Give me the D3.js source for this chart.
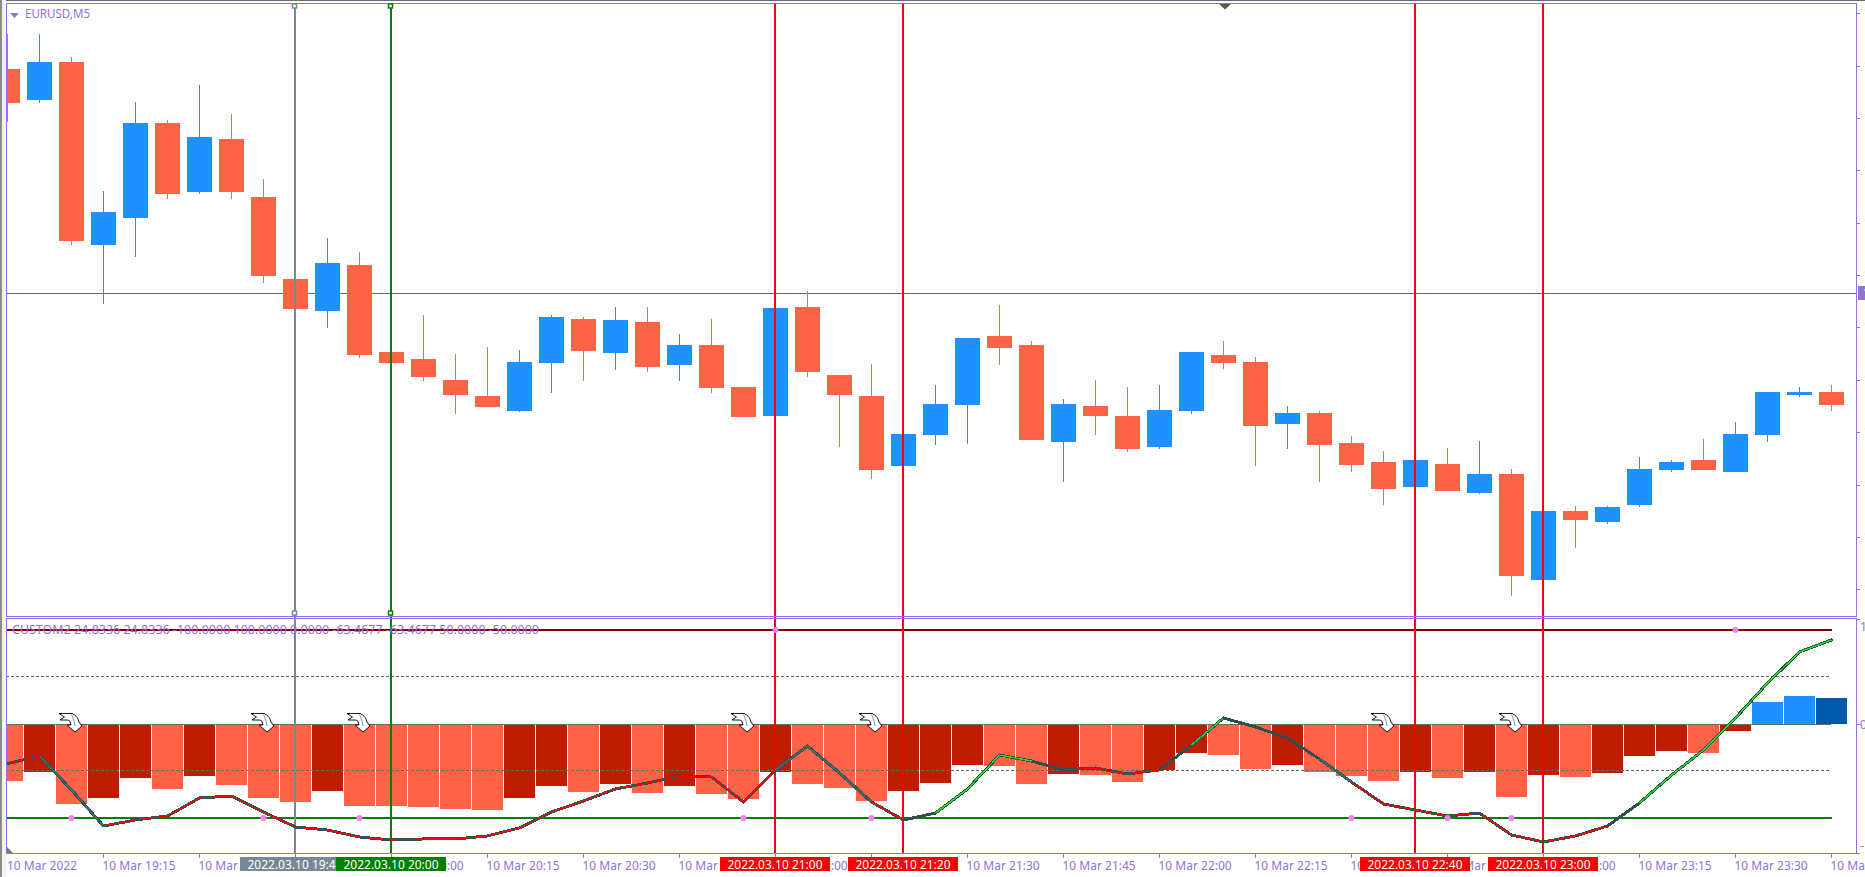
<!DOCTYPE html>
<html>
<head>
<meta charset="utf-8">
<title>EURUSD,M5</title>
<script src="https://cdn.jsdelivr.net/npm/d3@7/dist/d3.min.js"></script>
<style>
html,body{margin:0;padding:0;background:#fff;overflow:hidden}
svg{display:block}
text{font-family:"Noto Sans",sans-serif;font-size:12px}
</style>
</head>
<body>
<svg id="chart" width="1865" height="877"></svg>
<script>
// ---- data ----
const highs = [1.10466,1.10466,1.10443,1.10309,1.10398,1.10380,1.10415,1.10386,1.10321,1.10221,1.10262,1.10248,1.10148,1.10185,1.10146,1.10153,1.10150,1.10185,1.10183,1.10193,1.10193,1.10166,1.10181,1.10113,1.10192,1.10209,1.10125,1.10136,1.10066,1.10115,1.10162,1.10195,1.10159,1.10101,1.10120,1.10113,1.10115,1.10148,1.10159,1.10143,1.10094,1.10089,1.10064,1.10049,1.10040,1.10052,1.10059,1.10031,1.09989,1.09994,1.09994,1.10043,1.10040,1.10061,1.10078,1.10108,1.10113,1.10115];
const lows = [1.10378,1.10397,1.10255,1.10196,1.10243,1.10301,1.10306,1.10301,1.10217,1.10191,1.10172,1.10142,1.10137,1.10119,1.10086,1.10093,1.10088,1.10107,1.10119,1.10130,1.10128,1.10119,1.10107,1.10083,1.10084,1.10123,1.10053,1.10021,1.10034,1.10055,1.10056,1.10135,1.10060,1.10018,1.10065,1.10048,1.10051,1.10086,1.10131,1.10034,1.10051,1.10018,1.10028,1.09995,1.10013,1.10009,1.10006,1.09904,1.09920,1.09952,1.09976,1.09993,1.10028,1.10030,1.10028,1.10058,1.10103,1.10089];
const opens = [1.10431,1.10400,1.10438,1.10255,1.10282,1.10377,1.10308,1.10361,1.10303,1.10221,1.10189,1.10235,1.10148,1.10141,1.10120,1.10104,1.10089,1.10137,1.10181,1.10147,1.10178,1.10135,1.10155,1.10113,1.10084,1.10193,1.10125,1.10104,1.10034,1.10065,1.10095,1.10164,1.10155,1.10058,1.10094,1.10084,1.10053,1.10089,1.10145,1.10138,1.10076,1.10087,1.10057,1.10038,1.10013,1.10036,1.10007,1.10026,1.09920,1.09989,1.09978,1.09995,1.10030,1.10040,1.10028,1.10065,1.10105,1.10108];
const closes = [1.10397,1.10438,1.10259,1.10288,1.10377,1.10306,1.10363,1.10308,1.10224,1.10191,1.10237,1.10145,1.10137,1.10123,1.10105,1.10093,1.10138,1.10183,1.10149,1.10180,1.10133,1.10155,1.10112,1.10083,1.10192,1.10128,1.10105,1.10030,1.10066,1.10096,1.10162,1.10152,1.10060,1.10096,1.10084,1.10051,1.10090,1.10148,1.10137,1.10074,1.10087,1.10055,1.10035,1.10011,1.10040,1.10009,1.10026,1.09924,1.09989,1.09980,1.09993,1.10031,1.10038,1.10030,1.10066,1.10108,1.10108,1.10095];

const histValues = [-60.6,-50.7,-85.1,-78.7,-57.4,-69.1,-55.3,-64.9,-78.7,-83,-71.3,-87.2,-87.2,-88.3,-90.4,-91.5,-78.7,-66,-72.3,-63.8,-73.4,-66,-74.5,-79.8,-50.7,-63.8,-68.1,-81.9,-71.3,-62.8,-43.6,-44.7,-63.8,-53.2,-54.3,-61.7,-48.9,-30.9,-33,-47.9,-43.6,-50.7,-55.3,-60.6,-50.7,-57.4,-51.1,-77.7,-54.3,-56.4,-52.1,-34,-28.7,-30.9,-7.4,23.4,29.8,27.7];
const histStates = "TDTDDTDTTTDTTTTTDDTDTDTTDTTTDDDTTDTTDDTTDTTTDTDTDTDDDTDBBN".split("");
const lineValues = [-42.2,-34,-70.2,-108.5,-102.1,-97.9,-78.7,-76.6,-93.6,-109.6,-112.8,-120.2,-123.4,-122.3,-122.3,-119.1,-110.6,-93.6,-81.9,-69.1,-62.8,-55.3,-56.4,-83,-48.9,-23.4,-52.1,-83,-102.1,-94.7,-69.1,-33,-39.4,-48.9,-46.8,-53.2,-48.9,-22.3,6.4,-3.2,-14.9,-37.2,-61.7,-85.1,-91.5,-97.9,-94.7,-118.1,-125.5,-119.1,-108.5,-84,-54.3,-27.7,6.4,43.6,76.6,89.4];
const lineStates = "RXXRRRRRRRRRRRRRRRRRRRRRXXXRNGGGNRRRNGNNNXRRRRRRRRNGGGGGG".split("");

const arrowBars = [2,8,11,23,27,43,47];
const dotsLow = [2,8,11,23,27,42,45,47];
const dotsHigh = [24,54];

const timeLabels = ["10 Mar 2022","10 Mar 19:15","10 Mar 19:30","10 Mar 19:45","10 Mar 20:00","10 Mar 20:15","10 Mar 20:30","10 Mar 20:45","10 Mar 21:00","10 Mar 21:15","10 Mar 21:30","10 Mar 21:45","10 Mar 22:00","10 Mar 22:15","10 Mar 22:30","10 Mar 22:45","10 Mar 23:00","10 Mar 23:15","10 Mar 23:30","10 Mar 23:45"];
const priceTicks = [1.10487,1.10434,1.10382,1.10330,1.10277,1.10225,1.10173,1.10120,1.10068,1.10015,1.09963,1.09911];
const bidPrice = 1.10207;
const indicatorTicks = [{v:112,t:"112.8",dy:8},{v:0,t:"0",dy:0},{v:-137,t:"-137.8",dy:-7}];

const markers = [
  {bar:9, label:"2022.03.10 19:45", color:"#778899"},
  {bar:12,label:"2022.03.10 20:00", color:"#008000"},
  {bar:24,label:"2022.03.10 21:00", color:"#ff0000"},
  {bar:28,label:"2022.03.10 21:20", color:"#ff0000"},
  {bar:44,label:"2022.03.10 22:40", color:"#ff0000"},
  {bar:48,label:"2022.03.10 23:00", color:"#ff0000"}
];
const title = "EURUSD,M5";
const indicatorTitle = "CUSTOM2 24.8336 24.8336 -100.0000 100.0000 0.0000 -63.4677 -63.4677 50.0000 -50.0000";

// ---- style ----
const PURPLE="#9370DB", UP="#1E90FF", DOWN="#FF6347", LEVEL="#696969", DARK="#2F4F4F";
const histColor={T:"#FF6347",D:"#BE1E00",B:"#1E90FF",N:"#0058AA"};
const innerColor={R:"#FF0000",G:"#1EE01E",N:DARK,X:"#3F6F73"};

const svg=d3.select("#chart");
const defs=svg.append("defs");
defs.append("clipPath").attr("id","panes").append("rect").attr("x",7).attr("y",4).attr("width",1849).attr("height",849);

const L=6,R=1856,mainTop=3,mainBot=616,indTop=618,indBot=853;
const x=d3.scaleLinear().domain([0,57]).range([7.5,1831.5]);
const yP=d3.scaleLinear().domain([1.105,1.095]).range([0,1000]);
const yI=d3.scaleLinear().domain([100,-100]).range([630,818]);
const rows=d3.range(highs.length);

// window frame
svg.append("rect").attr("x",0).attr("y",0).attr("width",1865).attr("height",1).attr("fill","#696969");
svg.append("rect").attr("x",0).attr("y",0).attr("width",2).attr("height",877).attr("fill","#8a8a8a");
svg.append("rect").attr("x",2).attr("y",0).attr("width",4).attr("height",877).attr("fill","#f2f2f2");

const plot=svg.append("g").attr("clip-path","url(#panes)").attr("shape-rendering","crispEdges");

// bid line
plot.append("rect").attr("x",L).attr("y",Math.round(yP(bidPrice))).attr("width",R-L).attr("height",1).attr("fill",LEVEL);

// candles
const candle=plot.append("g").selectAll("g").data(rows).join("g").attr("fill",i=>closes[i]>=opens[i]?UP:DOWN);
candle.append("rect").attr("x",i=>x(i)-0.5).attr("width",1)
  .attr("y",i=>Math.round(yP(highs[i]))).attr("height",i=>Math.round(yP(lows[i]))-Math.round(yP(highs[i])));
candle.append("rect").attr("x",i=>x(i)-12.5).attr("width",25)
  .attr("y",i=>Math.round(yP(Math.max(opens[i],closes[i]))))
  .attr("height",i=>Math.round(yP(Math.min(opens[i],closes[i])))-Math.round(yP(Math.max(opens[i],closes[i]))));

// histogram
plot.append("g").selectAll("rect").data(rows).join("rect")
  .attr("x",i=>x(i)-15.5).attr("width",31)
  .attr("y",i=>histValues[i]<0?yI(0):Math.round(yI(histValues[i])))
  .attr("height",i=>Math.abs(Math.round(yI(histValues[i]))-yI(0)))
  .attr("fill",i=>histColor[histStates[i]]);

// levels
const levelEnd=x(57);
plot.append("rect").attr("x",L).attr("y",yI(100)-1).attr("width",levelEnd-L).attr("height",2).attr("fill","#800000");
plot.append("rect").attr("x",L).attr("y",yI(-100)-1).attr("width",levelEnd-L).attr("height",2).attr("fill","#008000");
plot.append("rect").attr("x",L).attr("y",yI(0)).attr("width",levelEnd-L-1).attr("height",1).attr("fill",LEVEL);
[50,-50].forEach(v=>{
  plot.append("line").attr("x1",L).attr("x2",levelEnd-3).attr("y1",yI(v)-0.5).attr("y2",yI(v)-0.5)
    .attr("stroke",LEVEL).attr("stroke-width",1).attr("stroke-dasharray","3,2");
});

// vertical markers
plot.append("g").selectAll("rect").data(markers).join("rect")
  .attr("x",d=>x(d.bar)-1.5).attr("width",2).attr("y",4).attr("height",849).attr("fill",d=>d.color);

// indicator line: dark casing with coloured core, aliased like the terminal draws it
const segs=d3.pairs(rows);
const ln=d3.line().x(i=>x(i)).y(i=>yI(lineValues[i]));
const lineG=svg.append("g").attr("clip-path","url(#panes)").attr("fill","none").attr("stroke-linejoin","round").attr("stroke-linecap","round").attr("shape-rendering","crispEdges");
lineG.append("path").attr("d",ln(rows)).attr("stroke",DARK).attr("stroke-width",3);
lineG.selectAll("path.core").data(segs).join("path").attr("class","core")
  .attr("d",d=>ln(d)).attr("stroke",d=>innerColor[lineStates[d[0]]]).attr("stroke-width",1.3).attr("stroke-linecap","butt");

// signal dots
svg.append("g").selectAll("circle").data(dotsLow.map(i=>[i,-100]).concat(dotsHigh.map(i=>[i,100]))).join("circle")
  .attr("cx",d=>x(d[0])).attr("cy",d=>yI(d[1])).attr("r",3).attr("fill","#EE82EE");

// arrow glyphs
const arrow=svg.append("g").selectAll("g").data(arrowBars).join("g")
  .attr("transform",i=>`translate(${x(i)},${yI(0)})`);
arrow.append("path").attr("d","M-12.5,-10.5 L0.5,-10.5 Q6,-8.5 7.5,-2 L10.5,2 L3.5,8 L-4.5,1 L-0.5,1 Q-1,-4 -3.5,-4 L-11.5,-4 L-7,-7 Z")
  .attr("fill","#fff").attr("stroke","#000").attr("stroke-width",0.9);
arrow.append("path").attr("d","M0,-9.5 Q3,-4 3.5,2").attr("fill","none").attr("stroke","#2f8fc4").attr("stroke-width",0.8);

// pane borders
const frame=svg.append("g").attr("fill","none").attr("stroke",PURPLE).attr("stroke-width",1).attr("shape-rendering","crispEdges");
frame.append("rect").attr("x",L+.5).attr("y",mainTop+.5).attr("width",R-L).attr("height",mainBot-mainTop);
frame.append("rect").attr("x",L+.5).attr("y",indTop+.5).attr("width",R-L).attr("height",indBot-indTop);

// handles on the selected verticals
const handleData=markers.slice(0,2).flatMap(d=>[[d,6],[d,613]]);
svg.append("g").selectAll("rect").data(handleData).join("rect")
  .attr("x",d=>x(d[0].bar)-3).attr("y",d=>d[1]-2).attr("width",4).attr("height",4)
  .attr("fill","#fff").attr("stroke",d=>d[0].color).attr("stroke-width",1.5);

// time axis
const axisX=svg.append("g").attr("transform",`translate(0,${indBot+.5})`)
  .call(d3.axisBottom(x).tickValues(timeLabels.map((_,k)=>k*3)).tickFormat((_,k)=>timeLabels[k]).tickSizeInner(4).tickSizeOuter(0).tickPadding(3));
axisX.select(".domain").remove();
axisX.selectAll("line").attr("stroke",PURPLE).attr("shape-rendering","crispEdges").attr("x1",-.5).attr("x2",-.5);
axisX.selectAll("text").attr("fill",PURPLE).attr("text-anchor","start").attr("x",-1.5).attr("y",5).attr("dy","11.5");
axisX.selectAll(".tick").filter((d)=>d===0).select("line").remove();
axisX.selectAll(".tick").filter((d)=>d===0).select("text").attr("x",-1);

// price axis (labels run off the window edge)
const axisY=svg.append("g").attr("transform",`translate(${R+.5},0)`)
  .call(d3.axisRight(yP).tickValues(priceTicks).tickFormat(d3.format(".5f")).tickSizeInner(3).tickSizeOuter(0).tickPadding(4));
axisY.select(".domain").remove();
axisY.selectAll("line").attr("stroke",PURPLE).attr("shape-rendering","crispEdges");
axisY.selectAll("text").attr("fill","#EE82EE");

// bid tag
svg.append("rect").attr("x",1858).attr("y",286).attr("width",7).attr("height",14).attr("fill",PURPLE);
svg.append("text").attr("x",1863).attr("y",297).attr("fill","#fff").text(d3.format(".5f")(bidPrice));

// indicator scale
const axisI=svg.append("g");
axisI.selectAll("line").data(indicatorTicks).join("line")
  .attr("x1",R).attr("x2",R+4).attr("y1",d=>Math.round(yI(d.v))+.5).attr("y2",d=>Math.round(yI(d.v))+.5)
  .attr("stroke",PURPLE).attr("shape-rendering","crispEdges");
axisI.selectAll("text").data(indicatorTicks).join("text")
  .attr("x",1860).attr("y",d=>yI(d.v)+d.dy+4.5).attr("fill",PURPLE).text(d=>d.t);

// time tags
const tag=svg.append("g").selectAll("g").data(markers).join("g");
tag.append("rect").attr("x",d=>x(d.bar)-55.5).attr("y",857).attr("width",110).attr("height",14).attr("fill",d=>d.color);
tag.append("text").attr("x",d=>x(d.bar)-0.5).attr("y",869).attr("text-anchor","middle").attr("fill","#fff").text(d=>d.label);

// titles
svg.append("path").attr("d",d3.line()([[10,13],[19,13],[14.5,18]])+"Z").attr("fill",PURPLE);
svg.append("text").attr("x",25).attr("y",18).attr("fill",PURPLE).attr("textLength",65).attr("lengthAdjust","spacingAndGlyphs").text(title);
svg.append("text").attr("x",12).attr("y",634).attr("fill",PURPLE).attr("textLength",527).attr("lengthAdjust","spacingAndGlyphs").text(indicatorTitle);
// chart shift marker and corner mark
svg.append("path").attr("d",d3.line()([[1219,4],[1231,4],[1225,9.5]])+"Z").attr("fill","#5a5a5a");
svg.append("path").attr("d",d3.line()([[7,847],[7,853],[13,853]])+"Z").attr("fill","#777");
</script>
</body>
</html>
